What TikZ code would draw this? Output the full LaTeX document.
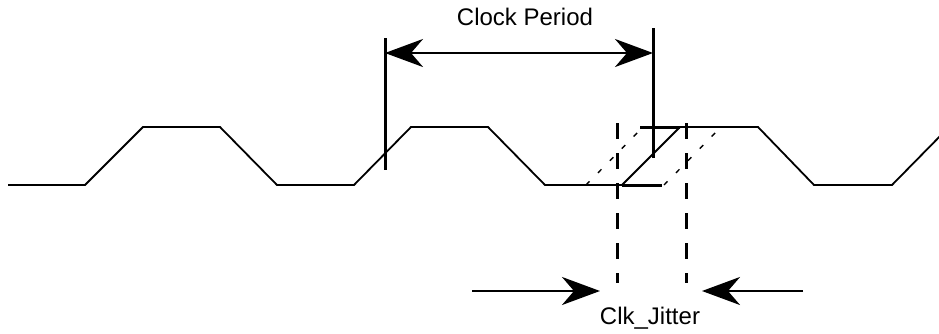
\documentclass[tikz,border=0pt]{standalone}
\usepackage{fontspec}
\setmainfont{Liberation Sans}
\usetikzlibrary{arrows.meta}
\tikzset{
  wave/.style={line width=0.9pt,line join=miter},
  jitteredge/.style={line width=0.7pt,dash pattern=on 2.5pt off 6pt},
  marker/.style={line width=1.5pt},
  guide/.style={line width=1.5pt,dash pattern=on 8pt off 7pt},
  dimarrow/.style={line width=1.4pt,-{Stealth[length=19pt,width=14pt,inset=6pt]}},
  lbl/.style={font=\fontsize{12}{14}\selectfont,inner sep=0pt}
}
\begin{document}
\begin{tikzpicture}[x=0.5pt,y=-0.5pt]
  \useasboundingbox (0,0) rectangle (939,333);
  % clock waveform
  \begin{scope}
    \clip (0,0) rectangle (939,333);
    \draw[wave] (8,185)--(85,185)--(143,127)--(220,127)--(277,185)--(354,185)--(411,127)--(488,127)--(545,185)--(622,185)--(680,127)--(758,127)--(814,185)--(892,185)--(950,126);
  \end{scope}
  % jittered edges
  \coordinate (e1a) at (586,185);
  \coordinate (e1b) at (643,127);
  \coordinate (e2a) at (664,185);
  \coordinate (e2b) at (721,127);
  \draw[jitteredge] (e1a)--(e1b);
  \draw[jitteredge] (e2a)--(e2b);
  \draw[line width=1.5pt] (622,185)--(662,185) (640,127)--(680,127);
  % clock period markers
  \coordinate (p1t) at (385,38);
  \coordinate (p1b) at (385,170);
  \coordinate (p2t) at (653,28);
  \coordinate (p2b) at (653,158);
  \draw[marker] (p1t)--(p1b);
  \draw[marker] (p2t)--(p2b);
  \coordinate (a1) at (385,53);
  \coordinate (a2) at (653,53);
  \draw[dimarrow] (519,53)--(a1);
  \draw[dimarrow] (519,53)--(a2);
  \node[lbl] (period) at (525,17) {Clock Period};
  % jitter window
  \coordinate (g1t) at (617,123);
  \coordinate (g1b) at (617,283);
  \coordinate (g2t) at (686,123);
  \coordinate (g2b) at (686,283);
  \draw[guide] (g1t)--(g1b);
  \draw[guide] (g2t)--(g2b);
  \coordinate (j1s) at (472,291);
  \coordinate (j1e) at (600,291);
  \coordinate (j2s) at (803,291);
  \coordinate (j2e) at (702,291);
  \draw[dimarrow] (j1s)--(j1e);
  \draw[dimarrow] (j2s)--(j2e);
  \node[lbl] (jitter) at (650,318) {Clk\_Jitter};
\end{tikzpicture}
\end{document}
